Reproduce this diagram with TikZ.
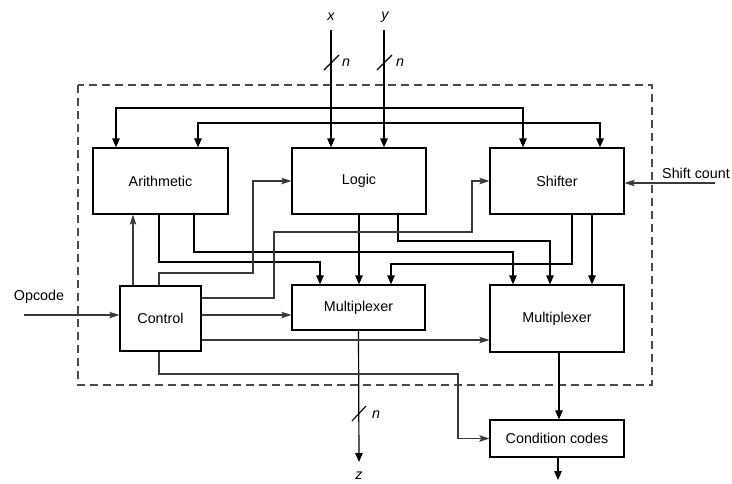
\documentclass[tikz,border=0pt]{standalone}
\usepackage{fontspec}
\setmainfont{Liberation Sans}
\usetikzlibrary{arrows.meta,calc}
\definecolor{ctl}{HTML}{3A3A3A}
\definecolor{framegray}{HTML}{4A4A4A}

\begin{document}
\begin{tikzpicture}[x=1pt,y=-1pt,
  every node/.style={font=\fontsize{14.3}{17}\selectfont},
  unit/.style={draw=black, line width=1.3pt, fill=white, inner sep=0pt},
  data/.style={draw=black, line width=1.2pt, -{Triangle[length=9pt,width=7.5pt]}},
  ctrl/.style={draw=ctl, line width=1.2pt, -{Stealth[length=10pt,width=6.5pt,inset=2pt]}},
  busmark/.style={draw=black, line width=1.1pt},
  lbl/.style={font=\fontsize{14.3}{17}\selectfont\itshape, inner sep=0pt},
  tap/.style={circle, fill=black, inner sep=0pt, minimum size=3pt}
]
\path[use as bounding box] (0,0) rectangle (732,483);

% ALU boundary
\draw[framegray, line width=1.2pt, dash pattern=on 8pt off 5pt] (78,85) rectangle (652,385);

% functional units
\node[unit, minimum width=135pt, minimum height=66pt] (arith)   at (160.5,181) {Arithmetic};
\node[unit, minimum width=134pt, minimum height=66pt] (logic)   at (359,181)   {Logic};
\node[unit, minimum width=134pt, minimum height=66pt] (shifter) at (557,181)   {Shifter};
\node[unit, minimum width=81pt,  minimum height=65pt] (control) at (160.5,318.5) {Control};
\node[unit, minimum width=133pt, minimum height=45pt] (muxa)    at (358.5,307.5) {Multiplexer};
\node[unit, minimum width=134pt, minimum height=67pt] (muxb)    at (557,318.5) {Multiplexer};
\node[unit, minimum width=134pt, minimum height=37pt] (cc)      at (557,438.5) {Condition codes};

% external labels and free ends
\node[lbl] (xlbl) at (331,17) {x};
\node[lbl] (ylbl) at (385,17) {y};
\node[lbl] (zlbl) at (359,476) {z};
\node[inner sep=0pt] (opcode) at (39,297) {Opcode};
\node[anchor=east, inner sep=0pt] (shiftlbl) at (730,173) {Shift count};
\coordinate (xin) at (331,30);
\coordinate (yin) at (384,30);
\coordinate (opin) at (24,315);
\coordinate (shin) at (715,183);
\coordinate (zout) at (359,462);
\coordinate (ccout) at (558,480);
\coordinate (xtap) at (331,123);
\coordinate (ytap) at (384,108);

% operand inputs
\draw[data] (xin) -- (331,0 |- logic.north);
\draw[data] (yin) -- (384,0 |- logic.north);
\draw[data] (ytap) -| (116,0 |- arith.north);
\draw[data] (ytap) -| (523,0 |- shifter.north);
\draw[data] (xtap) -| (198,0 |- arith.north);
\draw[data] (xtap) -| (600,0 |- shifter.north);
\node[tap] (xdot) at (xtap) {};
\node[tap] (ydot) at (ytap) {};

% unit results to the multiplexers
\draw[data] (159,0 |- arith.south) |- (320,262) -- (320,0 |- muxa.north);
\draw[data] (194,0 |- arith.south) |- (513,252) -- (513,0 |- muxb.north);
\draw[data] (logic.south) -- (logic.south |- muxa.north);
\draw[data] (398,0 |- logic.south) |- (550,241) -- (550,0 |- muxb.north);
\draw[data] (572,0 |- shifter.south) |- (391,264) -- (391,0 |- muxa.north);
\draw[data] (592,0 |- shifter.south) -- (592,0 |- muxb.north);

% outputs
\draw[data] (muxa.south) -- (zout);
\draw[data] (559,0 |- muxb.south) -- (559,0 |- cc.north);
\draw[data] (558,0 |- cc.south) -- (ccout);

% control signals
\draw[ctrl] (opin) -- (opin -| control.west);
\draw[ctrl] (133,0 |- control.north) -- (133,0 |- arith.south);
\draw[ctrl] (159,0 |- control.north) |- (253,273) |- (logic.west);
\draw[ctrl] (control.east |- 0,298) -| (274,232) -| (472,181) -- (shifter.west);
\draw[ctrl] (control.east |- 0,315) -- (muxa.west |- 0,315);
\draw[ctrl] (control.east |- 0,340) -- (muxb.west |- 0,340);
\draw[ctrl] (159,0 |- control.south) |- (458,374) |- (cc.west);
\draw[ctrl] (shin) -- (shin -| shifter.east);

% bus width marks
\draw[busmark] (324,70) -- (339,55);
\draw[busmark] (377,70) -- (392,55);
\draw[busmark] (352,421) -- (366,406);
\node[lbl] (nx) at (346,63) {n};
\node[lbl] (ny) at (400,63) {n};
\node[lbl] (nz) at (376,415) {n};
\end{tikzpicture}
\end{document}
